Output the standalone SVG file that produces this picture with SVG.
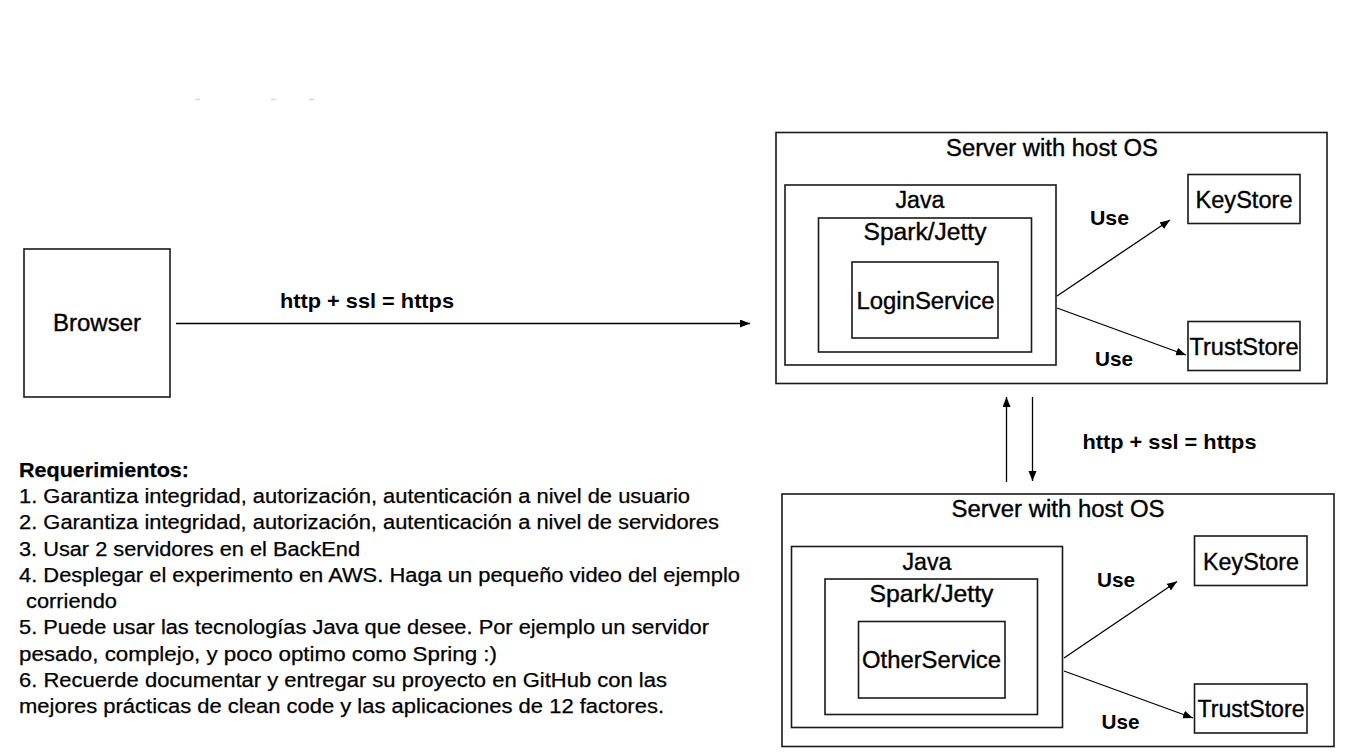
<svg xmlns="http://www.w3.org/2000/svg" width="1350" height="755" viewBox="0 0 1350 755">
<style>
  .box { fill: #ffffff; stroke: #1a1a1a; stroke-width: 1.6; }
  .lbl { font-family: "Liberation Sans", Arial, sans-serif; font-size: 23px; fill: #000; stroke: #000; stroke-width: 0.35; text-anchor: middle; }
  .bold { font-family: "Liberation Sans", Arial, sans-serif; font-size: 21px; font-weight: bold; fill: #000; text-anchor: middle; }
  .list { font-family: "Liberation Sans", Arial, sans-serif; font-size: 20px; fill: #000; stroke: #000; stroke-width: 0.25; }
  .edge { stroke: #000; stroke-width: 1.3; fill: none; marker-end: url(#arr); }
</style>
<defs>
  <marker id="arr" markerUnits="userSpaceOnUse" markerWidth="12" markerHeight="10" refX="10" refY="4" orient="auto">
    <path d="M0,0 L10,4 L0,8 Z" fill="#000"/>
  </marker>
</defs>
<rect width="1350" height="755" fill="#ffffff"/>
<g id="specks" stroke="#d8d8d8" stroke-width="1.5">
  <line x1="195" y1="99.5" x2="200" y2="99.5"/>
  <line x1="271" y1="99.5" x2="276" y2="99.5"/>
  <line x1="309" y1="99.5" x2="314" y2="99.5"/>
</g>
<g id="browser">
  <rect class="box" x="24" y="249" width="146" height="148"/>
  <text class="lbl" x="97" y="331" textLength="88" lengthAdjust="spacingAndGlyphs">Browser</text>
</g>
<g id="server1">
  <rect class="box" x="776" y="132.5" width="551" height="251"/>
  <text class="lbl" x="1052" y="156" textLength="212" lengthAdjust="spacingAndGlyphs">Server with host OS</text>
</g>
<g id="java1">
  <rect class="box" x="785" y="185" width="271" height="180"/>
  <text class="lbl" x="920" y="207.5" textLength="49" lengthAdjust="spacingAndGlyphs">Java</text>
</g>
<g id="spark1">
  <rect class="box" x="818.5" y="218" width="213" height="134"/>
  <text class="lbl" x="925" y="240" textLength="123" lengthAdjust="spacingAndGlyphs">Spark/Jetty</text>
</g>
<g id="login">
  <rect class="box" x="852" y="262" width="146" height="76"/>
  <text class="lbl" x="925.5" y="308.5" textLength="138" lengthAdjust="spacingAndGlyphs">LoginService</text>
</g>
<g id="keystore1">
  <rect class="box" x="1188" y="174.5" width="112" height="49"/>
  <text class="lbl" x="1244" y="208" textLength="97" lengthAdjust="spacingAndGlyphs">KeyStore</text>
</g>
<g id="truststore1">
  <rect class="box" x="1188" y="321.5" width="112" height="49"/>
  <text class="lbl" x="1244" y="354.5" textLength="109" lengthAdjust="spacingAndGlyphs">TrustStore</text>
</g>
<g id="server2">
  <rect class="box" x="782" y="494" width="552" height="252.5"/>
  <text class="lbl" x="1058" y="516.5" textLength="213" lengthAdjust="spacingAndGlyphs">Server with host OS</text>
</g>
<g id="java2">
  <rect class="box" x="791.5" y="546.5" width="271" height="181"/>
  <text class="lbl" x="927" y="570" textLength="49" lengthAdjust="spacingAndGlyphs">Java</text>
</g>
<g id="spark2">
  <rect class="box" x="825" y="579" width="212.5" height="135.5"/>
  <text class="lbl" x="931.5" y="602" textLength="124" lengthAdjust="spacingAndGlyphs">Spark/Jetty</text>
</g>
<g id="other">
  <rect class="box" x="858.5" y="621.5" width="146.5" height="76.5"/>
  <text class="lbl" x="931.5" y="668" textLength="139" lengthAdjust="spacingAndGlyphs">OtherService</text>
</g>
<g id="keystore2">
  <rect class="box" x="1194.5" y="536" width="112.5" height="49.5"/>
  <text class="lbl" x="1251" y="570" textLength="96" lengthAdjust="spacingAndGlyphs">KeyStore</text>
</g>
<g id="truststore2">
  <rect class="box" x="1194.5" y="684" width="112.5" height="49"/>
  <text class="lbl" x="1251" y="717" textLength="107" lengthAdjust="spacingAndGlyphs">TrustStore</text>
</g>
<g id="connectors">
  <line class="edge" x1="176" y1="323.5" x2="750" y2="323.5"/>
  <line class="edge" x1="1057" y1="296" x2="1170" y2="220"/>
  <line class="edge" x1="1057" y1="308" x2="1186" y2="355"/>
  <line class="edge" x1="1006.5" y1="482" x2="1006.5" y2="397"/>
  <line class="edge" x1="1032.5" y1="397" x2="1032.5" y2="481"/>
  <line class="edge" x1="1064" y1="658" x2="1177" y2="581.5"/>
  <line class="edge" x1="1064" y1="671" x2="1193" y2="718"/>
  <text class="bold" x="367" y="308" textLength="174" lengthAdjust="spacingAndGlyphs">http + ssl = https</text>
  <text class="bold" x="1169.5" y="448.5" textLength="174" lengthAdjust="spacingAndGlyphs">http + ssl = https</text>
  <text class="bold" x="1109.5" y="224.5" textLength="39" lengthAdjust="spacingAndGlyphs">Use</text>
  <text class="bold" x="1114" y="366" textLength="38" lengthAdjust="spacingAndGlyphs">Use</text>
  <text class="bold" x="1116" y="587" textLength="38" lengthAdjust="spacingAndGlyphs">Use</text>
  <text class="bold" x="1120.5" y="729" textLength="38" lengthAdjust="spacingAndGlyphs">Use</text>
</g>
<g id="requirements">
  <text class="list" x="19" y="477" font-weight="bold" stroke-width="0" textLength="170" lengthAdjust="spacingAndGlyphs">Requerimientos:</text>
  <text class="list" x="19" y="503" textLength="671" lengthAdjust="spacingAndGlyphs">1. Garantiza integridad, autorización, autenticación a nivel de usuario</text>
  <text class="list" x="19" y="529" textLength="700" lengthAdjust="spacingAndGlyphs">2. Garantiza integridad, autorización, autenticación a nivel de servidores</text>
  <text class="list" x="19" y="556" textLength="341" lengthAdjust="spacingAndGlyphs">3. Usar 2 servidores en el BackEnd</text>
  <text class="list" x="19" y="582" textLength="721" lengthAdjust="spacingAndGlyphs">4. Desplegar el experimento en AWS. Haga un pequeño video del ejemplo</text>
  <text class="list" x="26" y="608" textLength="91" lengthAdjust="spacingAndGlyphs">corriendo</text>
  <text class="list" x="19" y="634" textLength="690" lengthAdjust="spacingAndGlyphs">5. Puede usar las tecnologías Java que desee. Por ejemplo un servidor</text>
  <text class="list" x="19" y="661" textLength="478" lengthAdjust="spacingAndGlyphs">pesado, complejo, y poco optimo como Spring :)</text>
  <text class="list" x="19" y="687" textLength="648" lengthAdjust="spacingAndGlyphs">6. Recuerde documentar y entregar su proyecto en GitHub con las</text>
  <text class="list" x="19" y="713" textLength="645" lengthAdjust="spacingAndGlyphs">mejores prácticas de clean code y las aplicaciones de 12 factores.</text>
</g>
</svg>
